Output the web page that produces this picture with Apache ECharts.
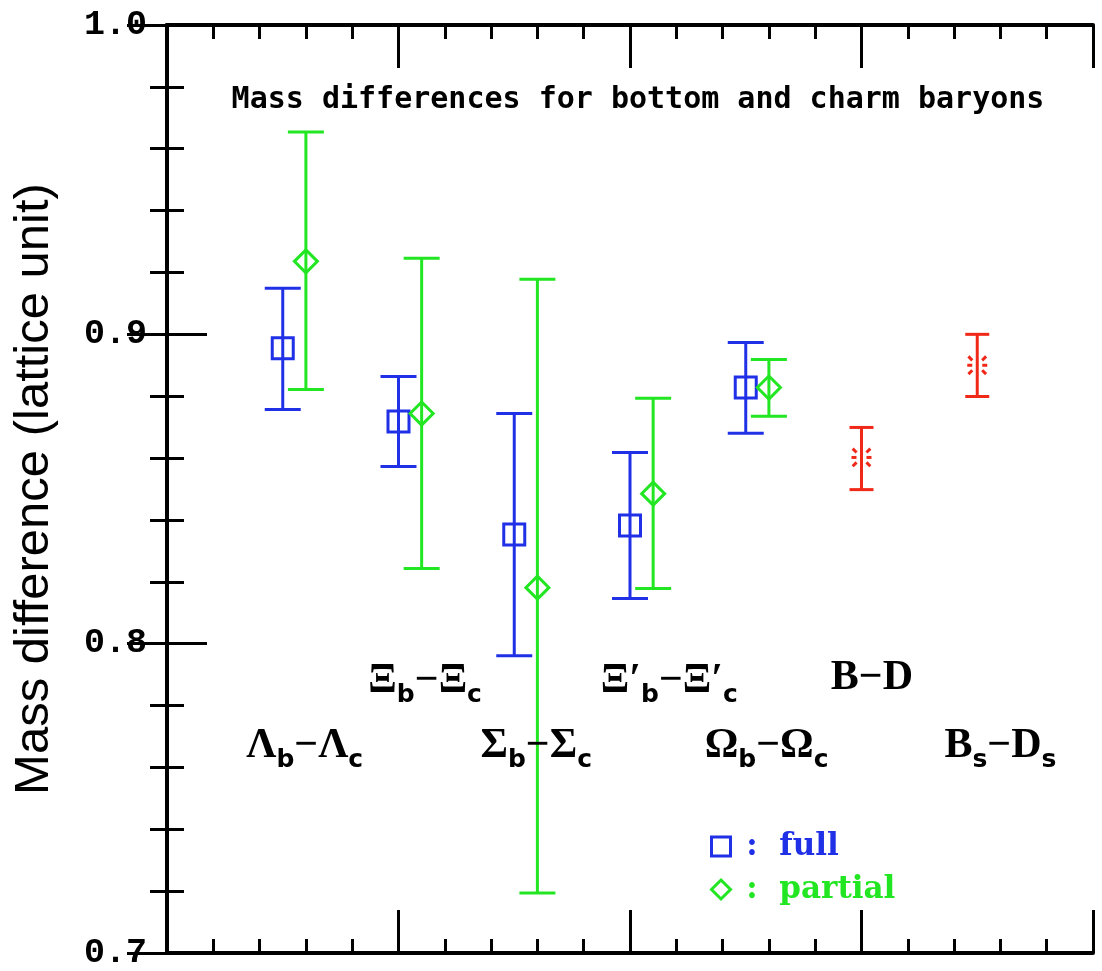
<!DOCTYPE html>
<html>
<head>
<meta charset="utf-8">
<script src="https://cdn.jsdelivr.net/npm/echarts@6/dist/echarts.min.js"></script>
<style>html,body{margin:0;padding:0;background:#fff;}#c{width:1102px;height:971px;}</style>
</head>
<body>
<div id="c"></div>
<script>
// ---- data ----
const xFull = [1, 2, 3, 4, 5];
const fullVal  = [0.8955, 0.8718, 0.8353, 0.8382, 0.8828];
const fullLow  = [0.8757, 0.8573, 0.7961, 0.8146, 0.8680];
const fullHigh = [0.9149, 0.8864, 0.8744, 0.8618, 0.8974];

const xPartial = [1.2, 2.2, 3.2, 4.2, 5.2];
const partialVal  = [0.9236, 0.8744, 0.8181, 0.8485, 0.8828];
const partialLow  = [0.8822, 0.8243, 0.7194, 0.8178, 0.8735];
const partialHigh = [0.9654, 0.9246, 0.9178, 0.8793, 0.8919];

const xMeson = [6, 7];
const mesonVal  = [0.8602, 0.8900];
const mesonLow  = [0.8498, 0.8799];
const mesonHigh = [0.8699, 0.9000];

const labelTexts = [
  '{g|Λ}{s|b}{g|−Λ}{s|c}',
  '{g|Ξ}{s|b}{g|−Ξ}{s|c}',
  '{g|Σ}{s|b}{g|−Σ}{s|c}',
  '{g|Ξ′}{s|b}{g|−Ξ′}{s|c}',
  '{g|Ω}{s|b}{g|−Ω}{s|c}',
  '{g|B−D}',
  '{g|B}{s|s}{g|−D}{s|s}'
];
const labelX = [1.19, 2.23, 3.19, 4.34, 5.18, 6.09, 7.2];
const labelY = [0.767, 0.788, 0.767, 0.788, 0.767, 0.789, 0.767];

const titleText = 'Mass differences for bottom and charm baryons';
const yName = 'Mass difference (lattice unit)';

// ---- styles ----
const BLUE = '#2030e6', GREEN = '#22e622', RED = '#f02818';

function errRender(capHalf, color) {
  return function (params, api) {
    const x = api.value(0), lo = api.value(1), hi = api.value(2);
    const a = api.coord([x, lo]), b = api.coord([x, hi]);
    const st = { stroke: color, lineWidth: 3, fill: null };
    return { type: 'group', children: [
      { type: 'line', shape: { x1: a[0], y1: a[1], x2: b[0], y2: b[1] }, style: st },
      { type: 'line', shape: { x1: a[0] - capHalf, y1: a[1], x2: a[0] + capHalf, y2: a[1] }, style: st },
      { type: 'line', shape: { x1: b[0] - capHalf, y1: b[1], x2: b[0] + capHalf, y2: b[1] }, style: st }
    ]};
  };
}
function burstRender(params, api) {
  const p = api.coord([api.value(0), api.value(1)]);
  const st = { stroke: RED, lineWidth: 3, fill: null };
  const segs = [[0, 5, 10], [180, 5, 10], [45, 7, 12.5], [135, 7, 12.5], [225, 7, 12.5], [315, 7, 12.5]];
  return { type: 'group', children: segs.map(s => {
    const r = s[0] * Math.PI / 180, c = Math.cos(r), d = Math.sin(r);
    return { type: 'line', shape: { x1: p[0] + c * s[1], y1: p[1] - d * s[1], x2: p[0] + c * s[2], y2: p[1] - d * s[2] }, style: st };
  })};
}

const axisLine = { show: true, lineStyle: { color: '#000', width: 4 } };
function xAx(pos) {
  return { type: 'value', position: pos, min: 0, max: 8, interval: 2,
    axisLine, axisLabel: { show: false }, splitLine: { show: false },
    axisTick: { show: true, inside: true, length: 43, lineStyle: { color: '#000', width: 3 } },
    minorTick: { show: true, splitNumber: 5, length: 14, lineStyle: { color: '#000', width: 3 } } };
}
function yAx(pos, labels) {
  const o = { type: 'value', position: pos, min: 0.7, max: 1.0, interval: 0.1,
    axisLine, splitLine: { show: false },
    axisTick: { show: true, inside: true, length: 40, lineStyle: { color: '#000', width: 3 } },
    minorTick: { show: true, splitNumber: 5, length: 17, lineStyle: { color: '#000', width: 3 } },
    axisLabel: { show: labels, margin: 20, formatter: v => v.toFixed(1),
      fontFamily: 'Liberation Mono', fontWeight: 'bold', fontSize: 35, color: '#000' } };
  if (labels) {
    o.name = yName; o.nameLocation = 'middle'; o.nameGap = 108;
    o.nameTextStyle = { fontFamily: 'Liberation Sans', fontSize: 49, color: '#000' };
  }
  return o;
}

const chart = echarts.init(document.getElementById('c'), null, { renderer: 'canvas' });
chart.setOption({
  animation: false,
  backgroundColor: '#fff',
  title: { text: titleText, left: 633, top: 80, textAlign: 'center',
    textStyle: { fontFamily: 'DejaVu Sans Mono', fontWeight: 'bold', fontSize: 30, color: '#000' } },
  grid: { left: 167, right: 9, top: 25, bottom: 18 },
  xAxis: [xAx('bottom'), xAx('top')],
  yAxis: [yAx('left', true), yAx('right', false)],
  legend: { orient: 'vertical', left: 705, top: 826, itemWidth: 19, itemHeight: 19, itemGap: 12,
    selectedMode: false,
    formatter: n => ' :  ' + n,
    textStyle: { fontFamily: 'DejaVu Serif', fontWeight: 'bold', fontSize: 31 },
    data: [
      { name: 'full', icon: 'rect', itemStyle: { color: 'rgba(0,0,0,0)', borderColor: BLUE, borderWidth: 3 }, textStyle: { color: BLUE } },
      { name: 'partial', icon: 'diamond', itemStyle: { color: 'rgba(0,0,0,0)', borderColor: GREEN, borderWidth: 3 }, textStyle: { color: GREEN } }
    ] },
  series: [
    { type: 'custom', name: 'fullErr', renderItem: errRender(18, BLUE), encode: { x: 0, y: [1, 2] },
      data: xFull.map((x, i) => [x, fullLow[i], fullHigh[i]]), z: 2 },
    { type: 'custom', name: 'partialErr', renderItem: errRender(18, GREEN), encode: { x: 0, y: [1, 2] },
      data: xPartial.map((x, i) => [x, partialLow[i], partialHigh[i]]), z: 2 },
    { type: 'custom', name: 'mesonErr', renderItem: errRender(12, RED), encode: { x: 0, y: [1, 2] },
      data: xMeson.map((x, i) => [x, mesonLow[i], mesonHigh[i]]), z: 2 },
    { type: 'custom', name: 'mesonPt', renderItem: burstRender, encode: { x: 0, y: 1 },
      data: xMeson.map((x, i) => [x, mesonVal[i]]), z: 3 },
    { type: 'scatter', name: 'full', symbol: 'rect', symbolSize: 21,
      itemStyle: { color: 'rgba(0,0,0,0)', borderColor: BLUE, borderWidth: 3, opacity: 1 },
      data: xFull.map((x, i) => [x, fullVal[i]]), z: 4 },
    { type: 'scatter', name: 'partial', symbol: 'diamond', symbolSize: 23,
      itemStyle: { color: 'rgba(0,0,0,0)', borderColor: GREEN, borderWidth: 3, opacity: 1 },
      data: xPartial.map((x, i) => [x, partialVal[i]]), z: 4 },
    { type: 'scatter', name: 'labels', symbolSize: 0, silent: true,
      data: labelX.map((x, i) => [x, labelY[i]]),
      label: { show: true, position: 'inside', color: '#000', opacity: 1,
        formatter: p => labelTexts[p.dataIndex],
        rich: {
          g: { fontFamily: 'Liberation Serif', fontWeight: 'bold', fontSize: 42, lineHeight: 54, color: '#000', verticalAlign: 'middle' },
          s: { fontFamily: 'DejaVu Sans', fontWeight: 'bold', fontSize: 25, lineHeight: 54, color: '#000', verticalAlign: 'bottom' }
        } } }
  ]
});
</script>
</body>
</html>
